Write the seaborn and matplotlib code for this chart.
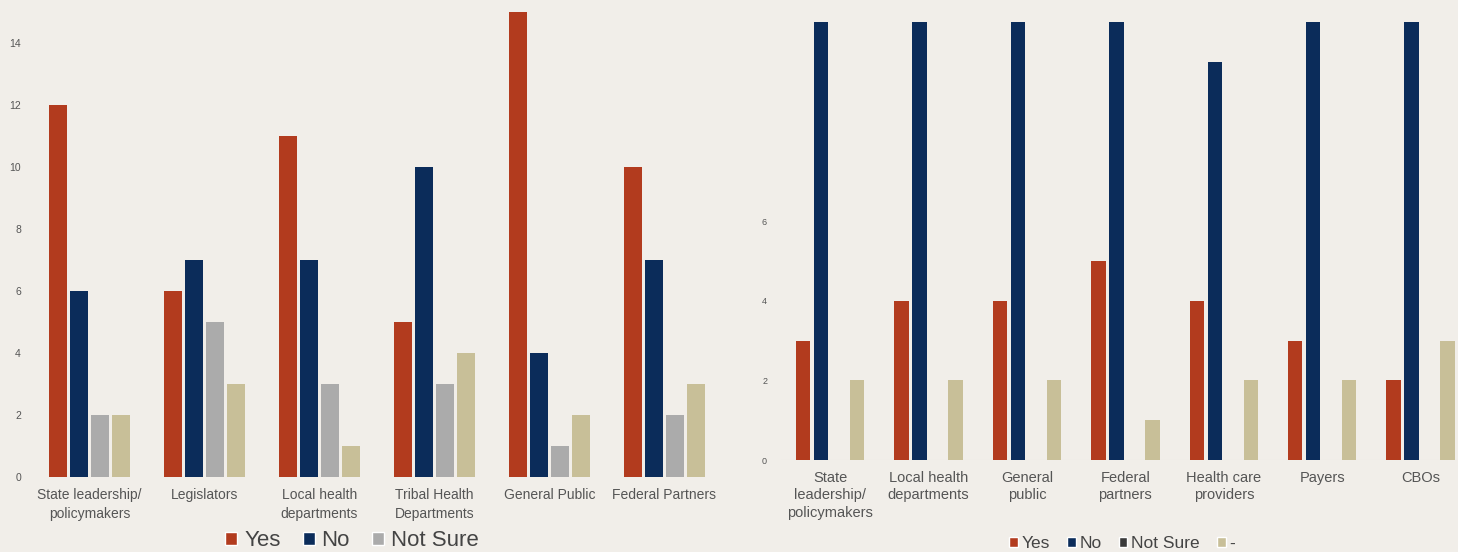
import matplotlib
matplotlib.use("Agg")
import matplotlib.pyplot as plt
from matplotlib.patches import Patch
import seaborn as sns
import pandas as pd

# ---- data: left panel ----
left_categories = ["State leadership/\npolicymakers", "Legislators", "Local health\ndepartments",
                   "Tribal Health\nDepartments", "General Public", "Federal Partners"]
left_yes = [12, 6, 11, 5, 15, 10]
left_no = [6, 7, 7, 10, 4, 7]
left_notsure = [2, 5, 3, 3, 1, 2]
left_other = [2, 3, 1, 4, 2, 3]
left_yticks = [0, 2, 4, 6, 8, 10, 12, 14]

# ---- data: right panel ----
right_categories = ["State\nleadership/\npolicymakers", "Local health\ndepartments", "General\npublic",
                    "Federal\npartners", "Health care\nproviders", "Payers", "CBOs"]
right_yes = [3, 4, 4, 5, 4, 3, 2]
right_no = [11, 11, 11, 11, 10, 11, 11]
right_notsure = [0, 0, 0, 0, 0, 0, 0]
right_dash = [2, 2, 2, 1, 2, 2, 3]
right_yticks = [0, 2, 4, 6]

series_left = ["Yes", "No", "Not Sure", "Other"]
series_right = ["Yes", "No", "Not Sure", "-"]

BG = "#F1EEE9"
C_YES = "#B23B1E"
C_NO = "#0B2C5A"
C_NS_L = "#ABABAB"
C_NS_R = "#3A3A3A"
C_TAN = "#C8BF98"
TXT = "#555555"

def long_df(cats, names, vals):
    rows = []
    for name, v in zip(names, vals):
        for c, x in zip(cats, v):
            rows.append({"cat": c, "series": name, "value": x})
    return pd.DataFrame(rows)

sns.set_theme(style="white")
plt.rcParams["font.family"] = ["Liberation Sans", "DejaVu Sans"]

fig = plt.figure(figsize=(14.58, 5.52), dpi=100, facecolor=BG)
W, H = 1458, 552

axL = fig.add_axes([32 / W, (H - 477) / H, (722 - 32) / W, (477 - 3) / H])
axR = fig.add_axes([781 / W, (H - 460) / H, (1458 - 781) / W, (460 - 2) / H])

dfL = long_df(left_categories, series_left, [left_yes, left_no, left_notsure, left_other])
sns.barplot(data=dfL, x="cat", y="value", hue="series", hue_order=series_left, order=left_categories,
            palette={"Yes": C_YES, "No": C_NO, "Not Sure": C_NS_L, "Other": C_TAN},
            width=0.73, gap=0.18, legend=False, ax=axL, saturation=1, linewidth=0, edgecolor="none")

dfR = long_df(right_categories, series_right, [right_yes, right_no, right_notsure, right_dash])
sns.barplot(data=dfR, x="cat", y="value", hue="series", hue_order=series_right, order=right_categories,
            palette={"Yes": C_YES, "No": C_NO, "Not Sure": C_NS_R, "-": C_TAN},
            width=0.73, gap=0.2, legend=False, ax=axR, saturation=1, linewidth=0, edgecolor="none")

for ax in (axL, axR):
    ax.set_facecolor(BG)
    for s in ax.spines.values():
        s.set_visible(False)
    ax.set_xlabel("")
    ax.set_ylabel("")
    ax.tick_params(axis="both", length=0, colors=TXT)

axL.set_xlim(-0.5, 5.5)
axL.set_ylim(0, 15.3)
axL.set_yticks(left_yticks)
axL.tick_params(axis="y", labelsize=7.5, pad=8)
axL.tick_params(axis="x", labelsize=10, pad=8)
for lab in axL.get_xticklabels():
    lab.set_linespacing(1.4)

axR.set_xlim(-0.5, 6.38)
axR.set_ylim(0, 11.5)
axR.set_yticks(right_yticks)
axR.tick_params(axis="y", labelsize=6.5, pad=10)
axR.tick_params(axis="x", labelsize=10.5, pad=8)
for lab in axR.get_xticklabels():
    lab.set_linespacing(1.3)
axR.axhline(0, color="#E2DED8", lw=0.8, zorder=0)

hL = [Patch(facecolor=C_YES), Patch(facecolor=C_NO), Patch(facecolor=C_NS_L)]
fig.legend(hL, ["Yes", "No", "Not Sure"], loc="center", bbox_to_anchor=(352 / W, (H - 541) / H),
           ncol=3, frameon=False, fontsize=16, handlelength=0.55, handleheight=0.55,
           handletextpad=0.3, columnspacing=1.0, labelcolor="#444444")

hR = [Patch(facecolor=C_YES), Patch(facecolor=C_NO), Patch(facecolor=C_NS_R), Patch(facecolor=C_TAN)]
fig.legend(hR, series_right, loc="center", bbox_to_anchor=(1122 / W, (H - 544) / H),
           ncol=4, frameon=False, fontsize=12.5, handlelength=0.5, handleheight=0.5,
           handletextpad=0.2, columnspacing=1.0, labelcolor="#444444")

fig.savefig("out.png", dpi=100, facecolor=BG)
